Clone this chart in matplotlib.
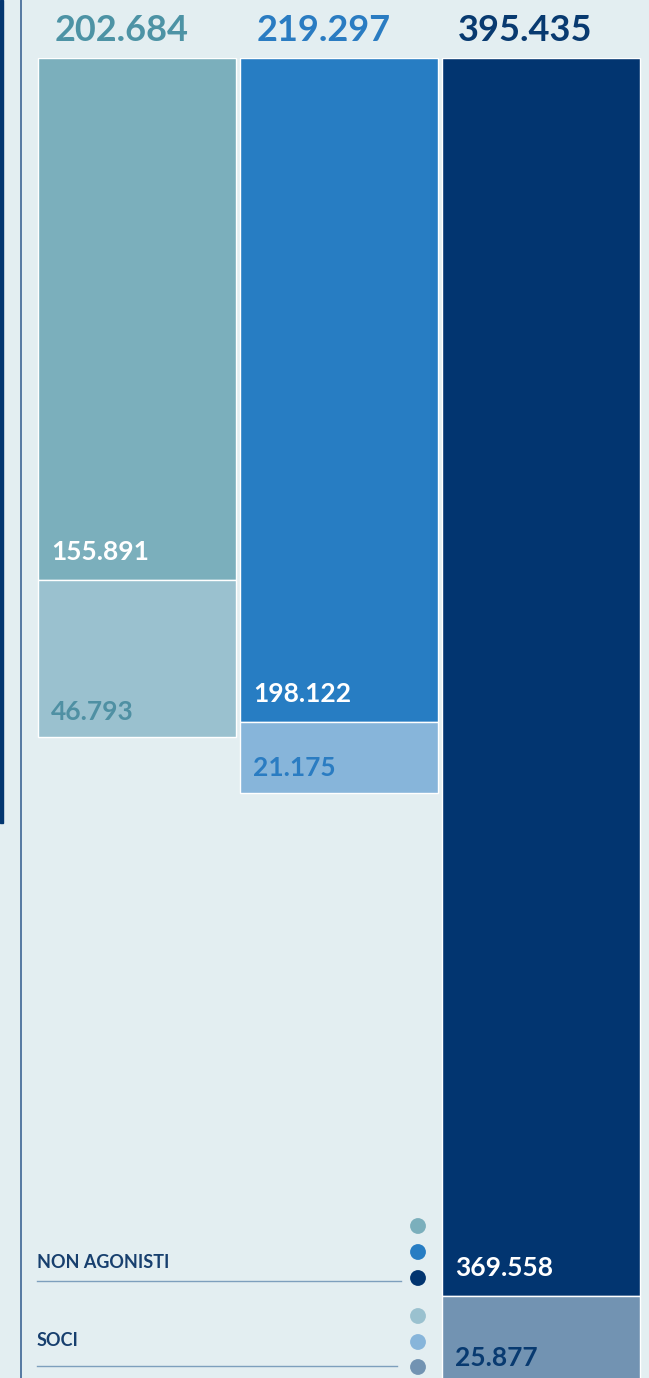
import numpy as np
import matplotlib.pyplot as plt
from matplotlib.patches import Rectangle

# values per column (top segment = non agonisti, bottom segment = soci)
totals = [202.684, 219.297, 395.435]
non_agonisti = [155.891, 198.122, 369.558]
soci = [46.793, 21.175, 25.877]
categories = ["NON AGONISTI", "SOCI"]

non_agonisti_colors = ["#7bafbc", "#277dc3", "#023570"]
soci_colors = ["#9ac1cf", "#87b5da", "#7293b2"]
total_colors = ["#4d93a5", "#2a7cc2", "#083a70"]
soci_label_colors = ["#4f90a3", "#2a7cc2", "#083a70"]

bg = "#e3eef1"
W, H = 649, 1378

plt.rcParams['font.family'] = ['Lato', 'DejaVu Sans']

fig = plt.figure(figsize=(W / 100, H / 100), dpi=100, facecolor=bg)

# decoration layer in pixel coords
deco = fig.add_axes([0, 0, 1, 1])
deco.set_xlim(0, W)
deco.set_ylim(H, 0)
deco.axis('off')
deco.add_patch(Rectangle((0, 0), 3, 823, color="#033670"))
deco.plot([21, 21], [0, H], color="#4a6f9b", lw=1.3)

# bars, hanging down from the top
ax = fig.add_axes([36 / W, 0, (642 - 36) / W, (H - 58) / H])
ax.set_facecolor('none')
x = np.arange(len(totals))
bw = 0.985
ax.bar(x, non_agonisti, width=bw, color=non_agonisti_colors,
       edgecolor='white', lw=1)
ax.bar(x, soci, bottom=non_agonisti, width=bw, color=soci_colors,
       edgecolor='white', lw=1)
ax.set_xlim(-0.5, 2.5)
ax.set_ylim(394, 0)
ax.axis('off')

for i in x:
    left = i - bw / 2
    ax.annotate(f"{totals[i]:.3f}", (left, 0), xytext=(12, 20),
                textcoords='offset points', va='center', ha='left',
                fontsize=26, fontweight='bold', color=total_colors[i],
                annotation_clip=False)
    ax.annotate(f"{non_agonisti[i]:.3f}", (left, non_agonisti[i]),
                xytext=(10, 20), textcoords='offset points', va='center',
                ha='left', fontsize=19, fontweight='bold', color='white',
                annotation_clip=False)
    ax.annotate(f"{soci[i]:.3f}", (left, non_agonisti[i] + soci[i]),
                xytext=(10, 18), textcoords='offset points', va='center',
                ha='left', fontsize=19, fontweight='bold',
                color=soci_label_colors[i], annotation_clip=False)

# legend
deco.text(37, 1262, categories[0], va='center', ha='left', fontsize=13,
          fontweight='bold', color="#173f6e")
deco.plot([37, 401], [1281, 1281], color="#7d9fbd", lw=1)
deco.text(37, 1341, categories[1], va='center', ha='left', fontsize=13,
          fontweight='bold', color="#173f6e")
deco.plot([37, 397], [1366, 1366], color="#7d9fbd", lw=1)
deco.scatter([418] * 3, [1226, 1252, 1278], s=130, c=non_agonisti_colors,
             linewidths=0)
deco.scatter([418] * 3, [1316, 1342, 1367], s=130, c=soci_colors,
             linewidths=0)

fig.savefig('out.png', dpi=100, facecolor=bg)
